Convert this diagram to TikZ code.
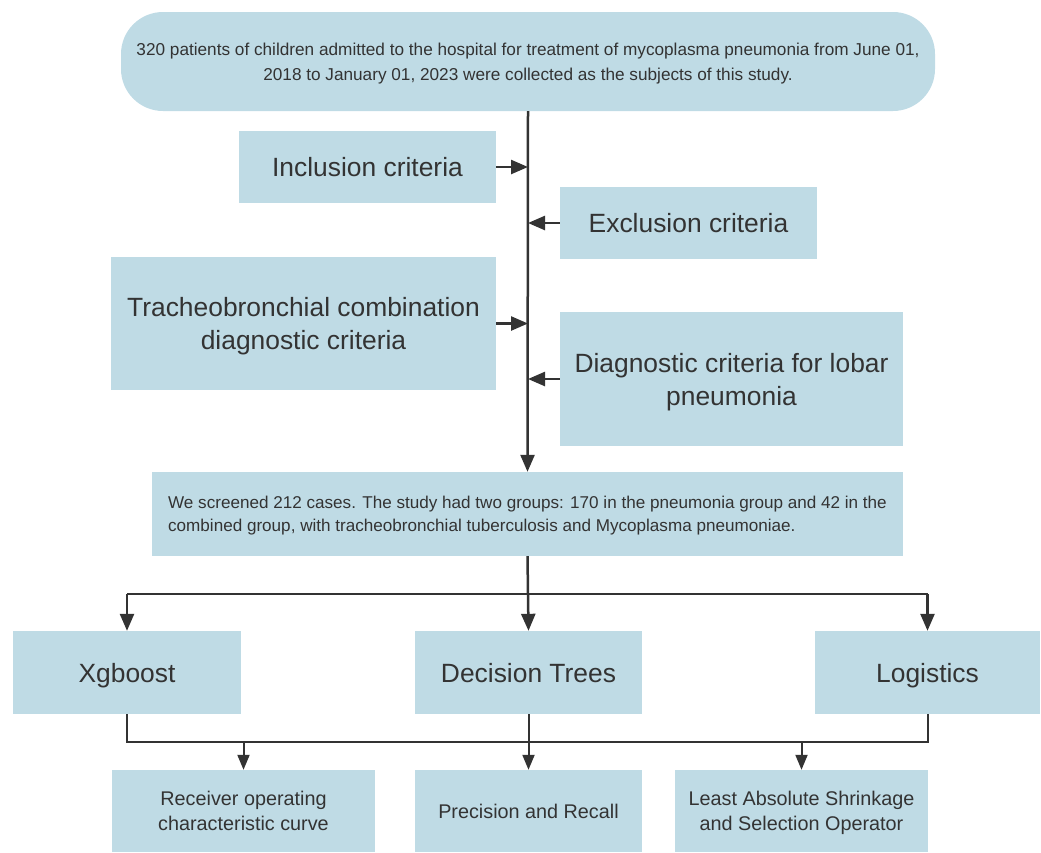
\documentclass[tikz,border=0pt]{standalone}
\usepackage{fontspec}
\setmainfont{Liberation Sans}
\usetikzlibrary{arrows.meta}
\definecolor{boxblue}{RGB}{191,219,229}
\definecolor{ink}{RGB}{51,51,51}
\begin{document}
\begin{tikzpicture}[x=1pt,y=-1pt,
  box/.style={fill=boxblue,draw=none,text=ink,align=center,inner sep=0pt,anchor=center,text depth=0pt},
  big/.style={font=\fontsize{26.4}{33}\selectfont},
  small/.style={font=\fontsize{17.2}{25}\selectfont},
  smalltight/.style={font=\fontsize{17.1}{23}\selectfont},
  mid/.style={font=\fontsize{19.8}{25}\selectfont},
  conn/.style={draw=ink,line width=2.5pt},
  thin/.style={draw=ink,line width=2pt},
  arr/.style={-{Triangle[length=17pt,width=14pt]}},
  sarr/.style={-{Triangle[length=15pt,width=12pt]}}]
\useasboundingbox (0,0) rectangle (1041,852);

\node[box,small,rounded corners=42pt,minimum width=814pt,minimum height=99pt] (top) at (528,61.5)
 {320 patients of children admitted to the hospital for treatment of mycoplasma pneumonia from June 01,\\2018 to January 01, 2023 were collected as the subjects of this study.};

\node[box,big,minimum width=257pt,minimum height=72pt] (incl) at (367.5,167) {Inclusion criteria};
\node[box,big,minimum width=257pt,minimum height=72pt] (excl) at (688.5,223) {Exclusion criteria};
\node[box,big,minimum width=385pt,minimum height=133pt] (trach) at (303.5,323.5) {Tracheobronchial combination\\diagnostic criteria};
\node[box,big,minimum width=343pt,minimum height=134pt] (lobar) at (731.5,379) {Diagnostic criteria for lobar\\pneumonia};

\node[box,smalltight,align=left,minimum width=751pt,minimum height=84pt] (screen) at (527.5,514)
 {We screened 212 cases. The study had two groups: 170 in the pneumonia group and 42 in the\\combined group, with tracheobronchial tuberculosis and Mycoplasma pneumoniae.};

\node[box,big,minimum width=228pt,minimum height=83pt] (xg) at (127,672.5) {Xgboost};
\node[box,big,minimum width=227pt,minimum height=83pt] (dt) at (528.5,672.5) {Decision Trees};
\node[box,big,minimum width=225pt,minimum height=83pt] (lg) at (927.5,672.5) {Logistics};

\node[box,mid,minimum width=263pt,minimum height=82pt] (roc) at (243.5,811) {Receiver operating\\characteristic curve};
\node[box,mid,minimum width=227pt,minimum height=82pt] (pr) at (528.5,811) {Precision and Recall};
\node[box,mid,minimum width=253pt,minimum height=82pt] (lasso) at (801.5,811) {Least Absolute Shrinkage\\and Selection Operator};

% main trunk
\draw[conn,arr] (top.south) -- (screen.north);
\draw[conn,arr] (incl.east) -- (top.south |- incl.east);
\draw[conn,arr] (excl.west) -- (top.south |- excl.west);
\draw[conn,arr] (trach.east) -- (top.south |- trach.east);
\draw[conn,arr] (lobar.west) -- (top.south |- lobar.west);

% distribution to models
\coordinate (bus) at (528,594);
\draw[conn] (screen.south) -- (bus);
\draw[conn] (xg.north |- bus) -- (lg.north |- bus);
\draw[conn,arr] (xg.north |- bus) -- (xg.north);
\draw[conn,arr] (bus) -- (dt.north);
\draw[conn,arr] (lg.north |- bus) -- (lg.north);

% collection to metrics
\coordinate (bus2) at (528,742);
\draw[thin] (xg.south) -- (xg.south |- bus2) -- (lg.south |- bus2) -- (lg.south);
\draw[thin,sarr] (dt.south) -- (pr.north);
\draw[thin,sarr] (roc.north |- bus2) -- (roc.north);
\draw[thin,sarr] (lasso.north |- bus2) -- (lasso.north);
\end{tikzpicture}
\end{document}
